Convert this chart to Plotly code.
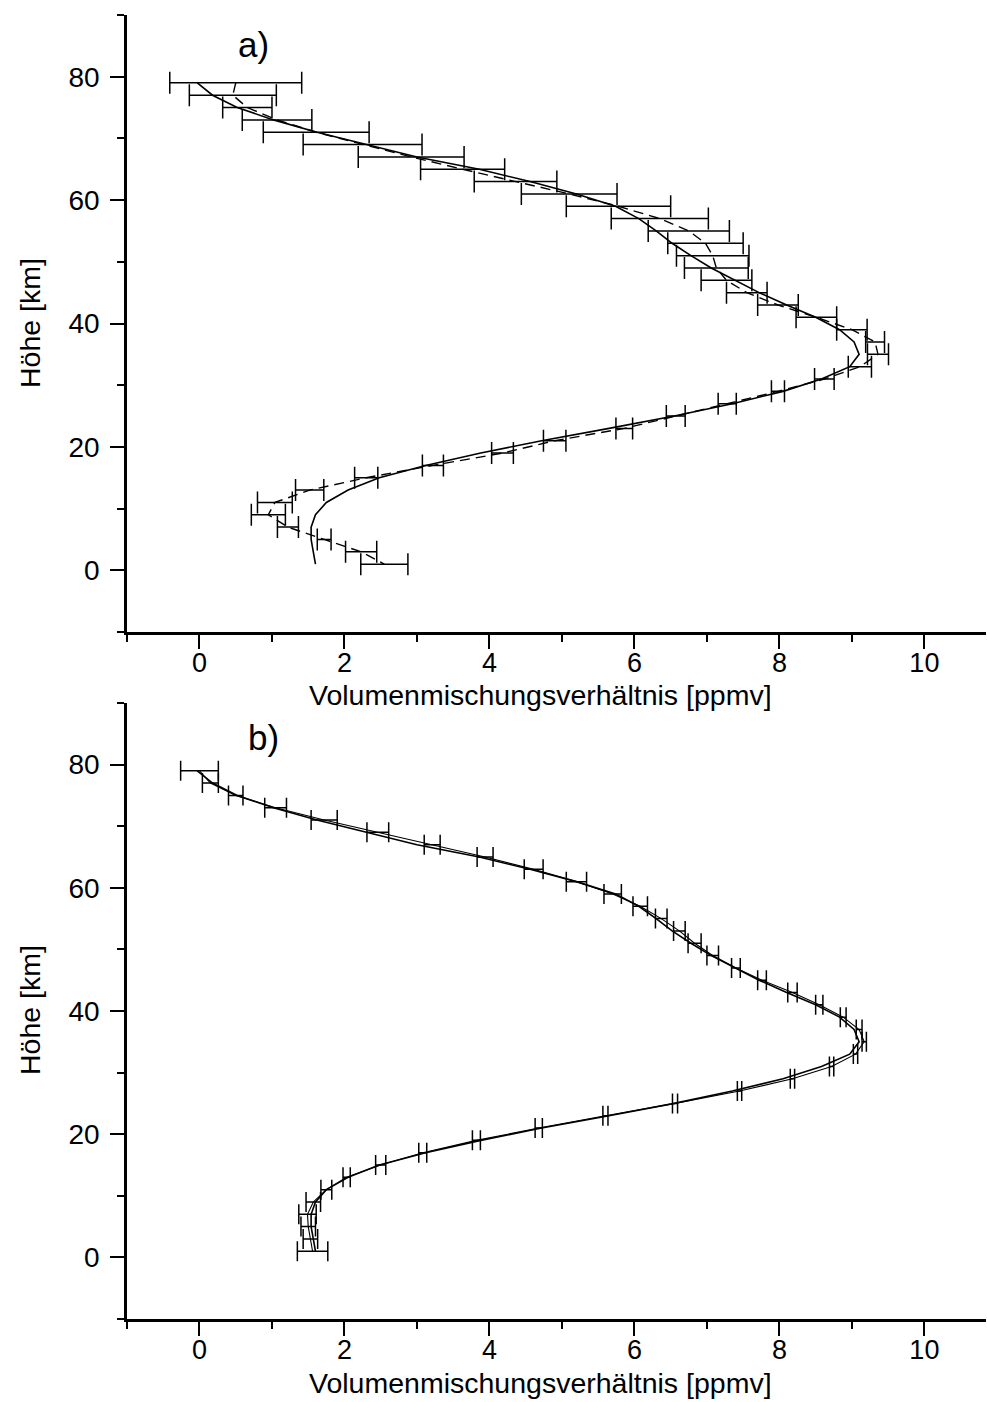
import plotly.graph_objects as go

# ---------------- data ----------------
altitude = [79, 77, 75, 73, 71, 69, 67, 65, 63, 61, 59, 57, 55, 53, 51, 49, 47, 45, 43, 41,
            39, 37, 35, 33, 31, 29, 27, 25, 23, 21, 19, 17, 15, 13, 11, 9, 7, 5, 3, 1]

# reference ("true") profile, solid line (both panels)
true_vmr = [-0.03, 0.18, 0.52, 1.02, 1.62, 2.32, 3.00, 3.86, 4.56, 5.20, 5.74, 6.06, 6.30, 6.52,
            6.78, 7.06, 7.38, 7.72, 8.10, 8.50, 8.83, 9.03, 9.10, 8.97, 8.58, 8.05, 7.35, 6.55,
            5.65, 4.72, 3.88, 3.12, 2.48, 2.05, 1.75, 1.60, 1.54, 1.54, 1.57, 1.60]

# panel a) retrieved profile (dashed) and its error
retr_a = [0.50, 0.46, 0.66, 1.07, 1.61, 2.25, 2.92, 3.63, 4.36, 5.10, 5.78, 6.35, 6.75, 6.98,
          7.08, 7.13, 7.27, 7.55, 7.98, 8.51, 9.00, 9.32, 9.36, 9.11, 8.62, 7.98, 7.28, 6.57,
          5.86, 4.90, 4.18, 3.22, 2.30, 1.52, 1.04, 0.95, 1.22, 1.72, 2.23, 2.55]
err_a = [0.91, 0.60, 0.34, 0.48, 0.73, 0.82, 0.73, 0.58, 0.57, 0.66, 0.72, 0.67, 0.56, 0.52,
         0.50, 0.44, 0.35, 0.28, 0.28, 0.28, 0.21, 0.13, 0.145, 0.16, 0.135, 0.09, 0.125, 0.13,
         0.115, 0.155, 0.15, 0.145, 0.16, 0.195, 0.24, 0.235, 0.145, 0.095, 0.215, 0.325]

# panel b) retrieved profile and its error
retr_b = [0.00, 0.15, 0.50, 1.05, 1.72, 2.46, 3.21, 3.94, 4.61, 5.20, 5.70, 6.08, 6.37, 6.62,
          6.83, 7.08, 7.40, 7.76, 8.18, 8.55, 8.88, 9.10, 9.17, 9.05, 8.72, 8.18, 7.45, 6.56,
          5.60, 4.68, 3.82, 3.08, 2.50, 2.03, 1.75, 1.57, 1.49, 1.50, 1.53, 1.56]
err_b = [0.26, 0.11, 0.10, 0.15, 0.18, 0.15, 0.11, 0.11, 0.13, 0.14, 0.12, 0.10, 0.08, 0.08,
         0.09, 0.08, 0.06, 0.06, 0.065, 0.05, 0.04, 0.04, 0.03, 0.03, 0.03, 0.03, 0.03, 0.035,
         0.035, 0.05, 0.055, 0.055, 0.07, 0.05, 0.075, 0.10, 0.12, 0.10, 0.10, 0.21]

x_title = "Volumenmischungsverhältnis [ppmv]"
y_title = "Höhe [km]"
panel_labels = ["a)", "b)"]

FONT = "Liberation Sans, Arial, sans-serif"

fig = go.Figure()

panels = [(retr_a, err_a, 11, "10px,6px", 1.4), (retr_b, err_b, 10, "solid", 1.1)]
for i, (retr, err, cap, dash, lw) in enumerate(panels):
    xa = "x" if i == 0 else "x2"
    ya = "y" if i == 0 else "y2"
    fig.add_trace(go.Scatter(
        x=true_vmr, y=altitude, mode="lines", xaxis=xa, yaxis=ya,
        line=dict(color="black", width=1.6), showlegend=False, hoverinfo="skip"))
    fig.add_trace(go.Scatter(
        x=retr, y=altitude, mode="lines", xaxis=xa, yaxis=ya,
        line=dict(color="black", width=lw, dash=dash),
        error_x=dict(type="data", array=err, symmetric=True, color="black",
                     thickness=1.5, width=cap),
        showlegend=False, hoverinfo="skip"))

def xaxis_cfg(anchor):
    return dict(range=[-1, 10.85], anchor=anchor, tick0=0, dtick=2,
                ticks="outside", ticklen=14, tickwidth=2, tickcolor="black",
                ticklabelstandoff=-9,
                minor=dict(dtick=1, tick0=0, ticks="outside", ticklen=7, tickwidth=2,
                           tickcolor="black"),
                showline=True, linewidth=2.5, linecolor="black",
                showgrid=False, zeroline=False,
                tickfont=dict(family=FONT, size=27, color="black"))

def yaxis_cfg(anchor, domain):
    return dict(range=[-10, 90], anchor=anchor, domain=domain, tick0=0, dtick=20,
                ticks="outside", ticklen=14, tickwidth=2, tickcolor="black",
                ticklabelstandoff=5,
                minor=dict(dtick=10, tick0=0, ticks="outside", ticklen=7, tickwidth=2,
                           tickcolor="black"),
                showline=True, linewidth=2.5, linecolor="black",
                showgrid=False, zeroline=False,
                tickfont=dict(family=FONT, size=28, color="black"))

# the page body margin is removed by the post script, so page pixels = figure pixels
W, H = 987, 1402
L, R, T, B = 127, 1, 15, 83
ph = H - T - B
pw = W - L - R

def py2paper(py):
    return (H - B - py) / ph

def px2paper(px):
    return (px - L) / pw

fig.update_layout(
    width=W, height=H,
    margin=dict(l=L, r=R, t=T, b=B),
    paper_bgcolor="white", plot_bgcolor="white",
    xaxis=xaxis_cfg("y"),
    yaxis=yaxis_cfg("x", [py2paper(632), 1.0]),
    xaxis2=xaxis_cfg("y2"),
    yaxis2=yaxis_cfg("x2", [0.0, py2paper(703)]),
)

annotations = []
for ty, my in [(695, 323), (1383, 1010)]:
    annotations.append(dict(text=x_title, xref="paper", yref="paper",
                            x=px2paper(540), y=py2paper(ty), xanchor="center", yanchor="middle",
                            showarrow=False, font=dict(family=FONT, size=28.5, color="black")))
    annotations.append(dict(text=y_title, xref="paper", yref="paper", textangle=-90,
                            x=px2paper(30), y=py2paper(my), xanchor="center", yanchor="middle",
                            showarrow=False, font=dict(family=FONT, size=28.5, color="black")))
annotations.append(dict(text=panel_labels[0], xref="x", yref="y", x=0.74, y=85.2,
                        showarrow=False, xanchor="center", yanchor="middle",
                        font=dict(family=FONT, size=35, color="black")))
annotations.append(dict(text=panel_labels[1], xref="x2", yref="y2", x=0.88, y=84.4,
                        showarrow=False, xanchor="center", yanchor="middle",
                        font=dict(family=FONT, size=35, color="black")))
fig.update_layout(annotations=annotations)

fig.write_html("out.html",
               config={"displayModeBar": False},
               post_script="document.body.style.margin='0px';"
                           "document.body.style.overflow='hidden';")
